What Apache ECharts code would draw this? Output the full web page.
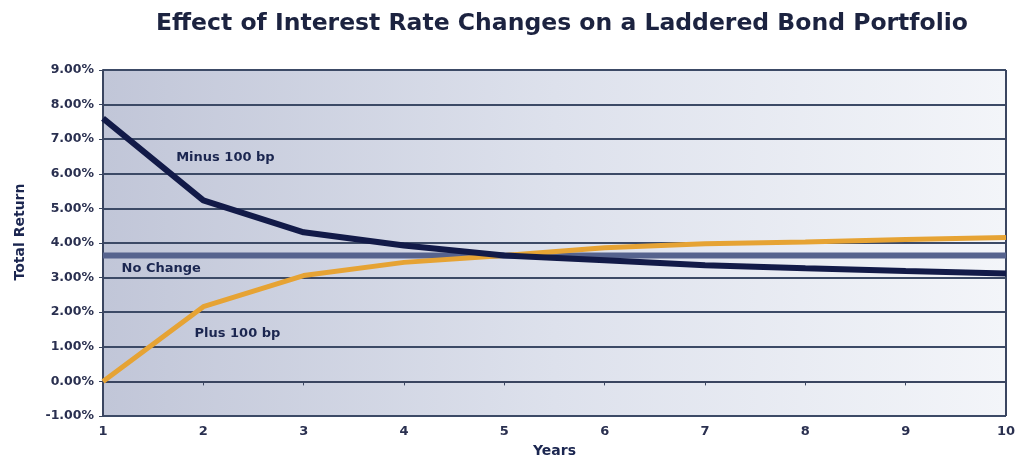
<!DOCTYPE html>
<html><head><meta charset="utf-8">
<script src="https://cdn.jsdelivr.net/npm/echarts@6/dist/echarts.min.js"></script>
<style>html,body{margin:0;padding:0;background:#fff}#c{width:1016px;height:458px}</style>
</head><body><div id="c"></div>
<script>
const years = [1,2,3,4,5,6,7,8,9,10];
const minus100 = [7.60,5.23,4.31,3.93,3.64,3.50,3.36,3.27,3.19,3.12];
const plus100 = [0.00,2.16,3.06,3.44,3.64,3.86,3.98,4.03,4.10,4.16];
const noChange = [3.64,3.64,3.64,3.64,3.64,3.64,3.64,3.64,3.64,3.64];
const labels = [
  {text:'Minus 100 bp', x:2.22, y:6.47},
  {text:'No Change', x:1.58, y:3.27},
  {text:'Plus 100 bp', x:2.34, y:1.39}
];
const navy = '#1b2650';
const font = 'DejaVu Sans';
const chart = echarts.init(document.getElementById('c'));
const pair = a => years.map((x,i)=>[x,a[i]]);
chart.setOption({
  animation:false,
  backgroundColor:'#ffffff',
  title:{text:'Effect of Interest Rate Changes on a Laddered Bond Portfolio',left:557,top:7,textAlign:'center',
    textStyle:{fontFamily:font,fontWeight:'bold',fontSize:23.5,color:'#1c2340'}},
  graphic:[{type:'text',x:20,y:232,rotation:Math.PI/2,
    style:{text:'Total Return',fontFamily:font,fontWeight:'bold',fontSize:14,fill:navy,align:'center',verticalAlign:'middle'}}],
  grid:{left:103,right:10,top:70,bottom:42,outerBoundsMode:'none',containLabel:false,show:true,borderWidth:0,
    backgroundColor:new echarts.graphic.LinearGradient(0,0,1,0,[{offset:0,color:'#c1c6d8'},{offset:0.5,color:'#dde1ec'},{offset:1,color:'#f3f5f9'}])},
  xAxis:{type:'value',min:1,max:10,interval:1,name:'Years',nameLocation:'middle',nameGap:28,
    nameTextStyle:{fontFamily:font,fontWeight:'bold',fontSize:14,color:navy},
    axisLine:{lineStyle:{color:'#3a4560',width:2}},
    axisTick:{show:true,length:4,lineStyle:{color:'#3a4560'}},
    axisLabel:{fontFamily:font,fontWeight:'bold',fontSize:13,color:'#2a3050',margin:9},
    splitLine:{show:false}},
  yAxis:{type:'value',min:-1,max:9,interval:1,
    axisLine:{show:true,lineStyle:{color:'#3a4560',width:2}},
    axisTick:{show:true,length:4,lineStyle:{color:'#3a4560'}},
    axisLabel:{fontFamily:font,fontWeight:'bold',fontSize:12.5,color:'#2a3050',margin:9,formatter:v=>v.toFixed(2)+'%'},
    splitLine:{show:true,lineStyle:{color:'#3c4a66',width:2}}},
  series:[
    {name:'No Change',type:'line',data:pair(noChange),symbol:'none',lineStyle:{color:'#56638e',width:6},z:2},
    {name:'Plus 100 bp',type:'line',data:pair(plus100),symbol:'none',lineStyle:{color:'#e6a334',width:5},z:3},
    {name:'Minus 100 bp',type:'line',data:pair(minus100),symbol:'none',lineStyle:{color:'#121a48',width:6},z:4,
      markPoint:{symbol:'circle',symbolSize:1,itemStyle:{color:'transparent'},
        data:labels.map(l=>({coord:[l.x,l.y],name:l.text,
          label:{show:true,formatter:l.text,fontFamily:font,fontWeight:'bold',fontSize:13,color:navy,position:'inside'}}))}},
    {type:'line',data:[[10,-1],[10,9]],symbol:'none',lineStyle:{color:'#3a4560',width:2},silent:true,z:1}
  ]
});
</script></body></html>
